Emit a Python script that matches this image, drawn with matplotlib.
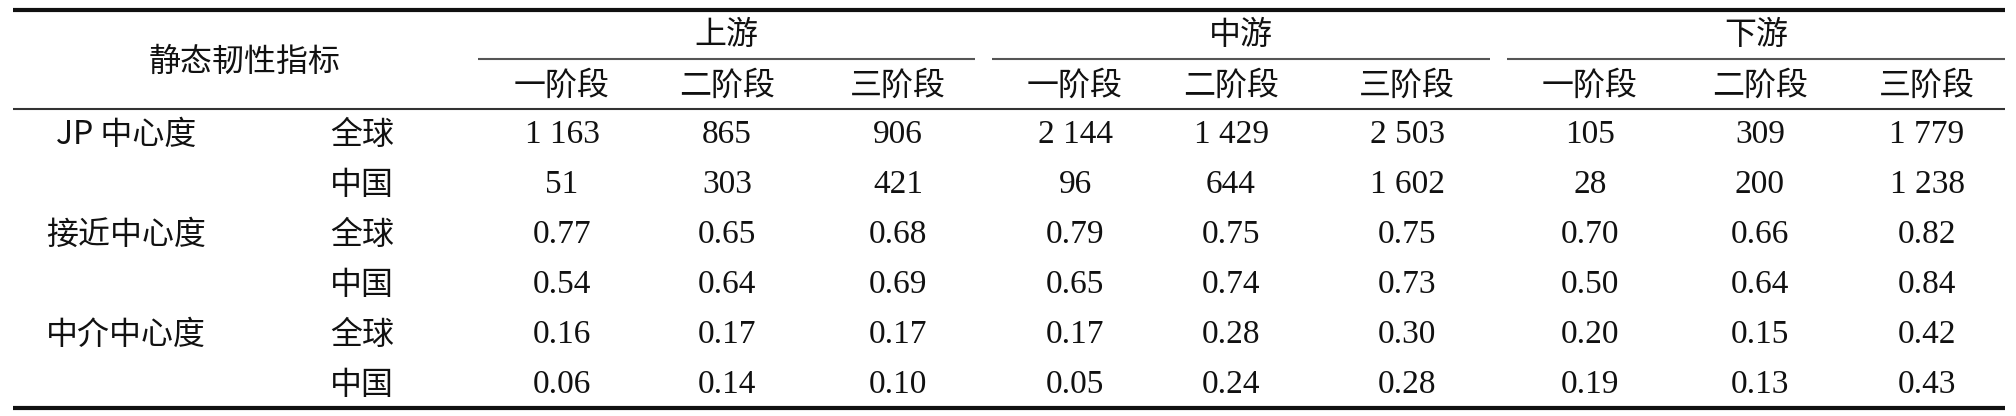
import matplotlib
matplotlib.use("Agg")
import matplotlib.pyplot as plt

plt.rcParams['font.family'] = ['Noto Sans CJK SC', 'DejaVu Sans']

header_title = "静态韧性指标"
groups = ["上游", "中游", "下游"]
stages = ["一阶段", "二阶段", "三阶段"]
indicators = ["JP 中心度", "接近中心度", "中介中心度"]
scopes = ["全球", "中国"]

jp_global = ["1 163", "865", "906", "2 144", "1 429", "2 503", "105", "309", "1 779"]
jp_china = ["51", "303", "421", "96", "644", "1 602", "28", "200", "1 238"]
close_global = ["0.77", "0.65", "0.68", "0.79", "0.75", "0.75", "0.70", "0.66", "0.82"]
close_china = ["0.54", "0.64", "0.69", "0.65", "0.74", "0.73", "0.50", "0.64", "0.84"]
between_global = ["0.16", "0.17", "0.17", "0.17", "0.28", "0.30", "0.20", "0.15", "0.42"]
between_china = ["0.06", "0.14", "0.10", "0.05", "0.24", "0.28", "0.19", "0.13", "0.43"]

rows = [jp_global, jp_china, close_global, close_china, between_global, between_china]

W, H = 2016, 416
fig = plt.figure(figsize=(W / 100, H / 100), dpi=100)
ax = fig.add_axes([0, 0, 1, 1])
ax.set_xlim(0, W)
ax.set_ylim(H, 0)
ax.axis('off')

cjk = ['Noto Sans CJK SC', 'DejaVu Sans']
num_font = ['Liberation Serif', 'DejaVu Serif']
fs = 23
fs_num = 24
txt_color = '#111111'

x_left, x_right = 13, 2005
col_x = [562, 727, 898, 1075, 1231, 1407, 1590, 1760, 1927]
group_spans = [(478, 975), (992, 1490), (1507, 2005)]
row_y = [135, 185, 235, 285, 335, 385]

# rules
ax.plot([x_left, x_right], [9.5, 9.5], color='#111111', lw=3.0, solid_capstyle='butt')
ax.plot([x_left, x_right], [108.5, 108.5], color='#333333', lw=1.5, solid_capstyle='butt')
ax.plot([x_left, x_right], [407.5, 407.5], color='#111111', lw=3.0, solid_capstyle='butt')
for (a, b) in group_spans:
    ax.plot([a, b], [59, 59], color='#555555', lw=1.5, solid_capstyle='butt')

# header
ax.text(245, 62, header_title, family=cjk, fontsize=fs, fontweight='light',
        ha='center', va='center', color=txt_color)
for g, (a, b) in zip(groups, group_spans):
    ax.text((a + b) / 2, 35, g, family=cjk, fontsize=fs, fontweight='light',
            ha='center', va='center', color=txt_color)
for i, x in enumerate(col_x):
    ax.text(x, 86, stages[i % 3], family=cjk, fontsize=fs, fontweight='light',
            ha='center', va='center', color=txt_color)

# row labels
for k, ind in enumerate(indicators):
    ax.text(126, row_y[2 * k], ind, family=cjk, fontsize=fs, fontweight='light',
            ha='center', va='center', color=txt_color)
for r, y in enumerate(row_y):
    ax.text(362, y, scopes[r % 2], family=cjk, fontsize=fs, fontweight='light',
            ha='center', va='center', color=txt_color)

# values
for r, vals in enumerate(rows):
    for x, v in zip(col_x, vals):
        ax.text(x, row_y[r], v, family=num_font, fontsize=fs_num,
                ha='center', va='center', color=txt_color)

fig.savefig("out.png", dpi=100, facecolor='white')
